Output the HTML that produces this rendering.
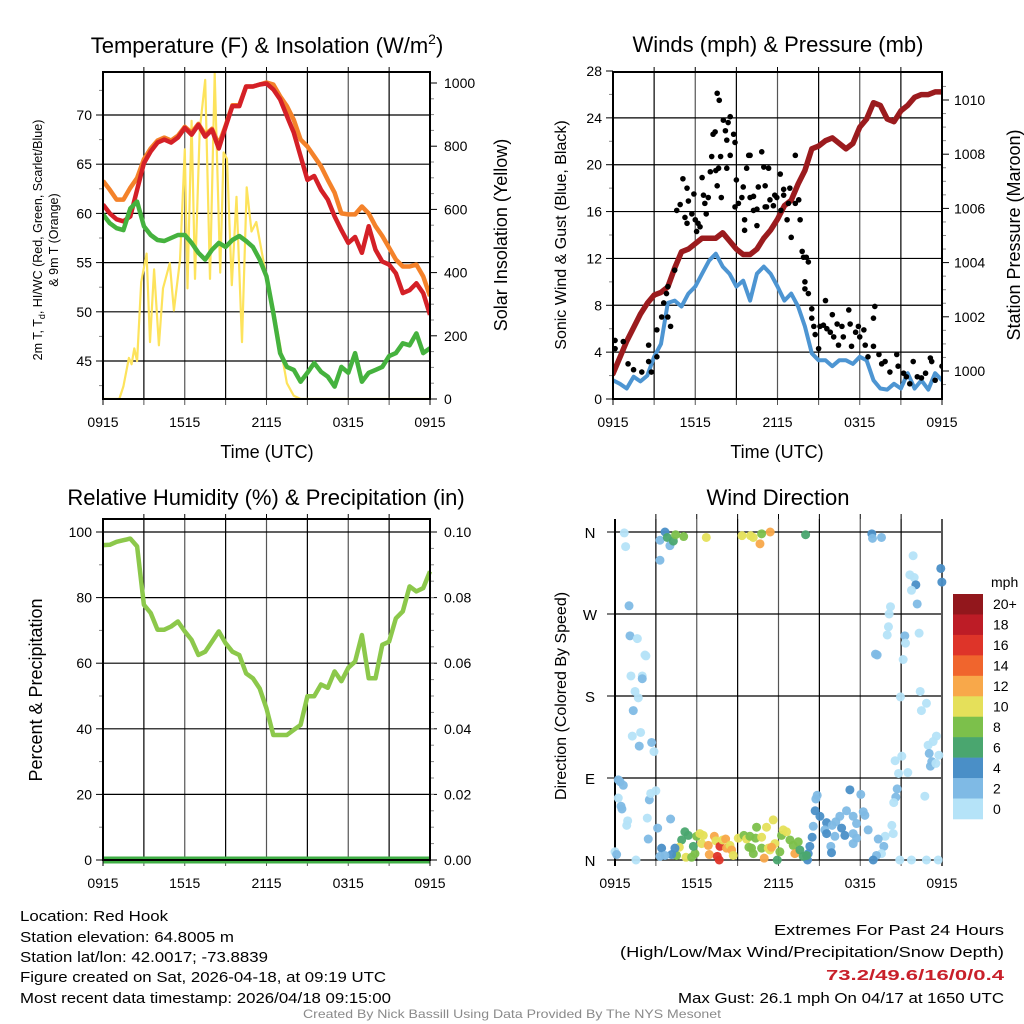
<!DOCTYPE html>
<html><head><meta charset="utf-8"><style>
html,body{margin:0;padding:0;background:#fff;}
svg{display:block;font-family:"Liberation Sans",sans-serif;}
</style></head><body>
<svg id="fig" width="1024" height="1024" viewBox="0 0 1024 1024" xmlns="http://www.w3.org/2000/svg">
<g id="layer"></g>
<g font-size="15" fill="#000">
<text x="20" y="921" textLength="148" lengthAdjust="spacingAndGlyphs">Location: Red Hook</text>
<text x="20" y="942" textLength="214" lengthAdjust="spacingAndGlyphs">Station elevation: 64.8005 m</text>
<text x="20" y="962" textLength="248" lengthAdjust="spacingAndGlyphs">Station lat/lon: 42.0017; -73.8839</text>
<text x="20" y="982" textLength="366" lengthAdjust="spacingAndGlyphs">Figure created on Sat, 2026-04-18, at 09:19 UTC</text>
<text x="20" y="1003" textLength="371" lengthAdjust="spacingAndGlyphs">Most recent data timestamp: 2026/04/18 09:15:00</text>
<text x="774" y="935" textLength="230" lengthAdjust="spacingAndGlyphs">Extremes For Past 24 Hours</text>
<text x="620" y="957" textLength="384" lengthAdjust="spacingAndGlyphs">(High/Low/Max Wind/Precipitation/Snow Depth)</text>
<text x="826" y="980" textLength="178" lengthAdjust="spacingAndGlyphs" fill="#c8202a" font-weight="bold">73.2/49.6/16/0/0.4</text>
<text x="678" y="1003" textLength="326" lengthAdjust="spacingAndGlyphs">Max Gust: 26.1 mph On 04/17 at 1650 UTC</text>
<text x="303" y="1018" font-size="12" fill="#8a8a8a" textLength="418" lengthAdjust="spacingAndGlyphs">Created By Nick Bassill Using Data Provided By The NYS Mesonet</text>
</g>
</svg>
<script>
// ---------- DATA ----------
const hours = [0,0.5,1,1.5,2,2.5,3,3.5,4,4.5,5,5.5,6,6.5,7,7.5,8,8.5,9,9.5,10,10.5,11,11.5,12,12.5,13,13.5,14,14.5,15,15.5,16,16.5,17,17.5,18,18.5,19,19.5,20,20.5,21,21.5,22,22.5,23,23.5,24];
const xTickLabels = ["0915","1515","2115","0315","0915"];
const temp2m = [60.9,60.0,59.4,59.2,59.7,62.4,65.1,66.3,67.2,67.5,67.2,67.7,68.7,68.0,69.0,67.8,68.5,66.6,68.8,70.9,70.9,72.9,72.9,73.1,73.2,72.6,71.6,69.9,68.2,65.8,63.4,63.8,62.4,61.4,59.7,58.3,57.0,57.6,56.0,58.7,56.3,55.1,54.8,53.9,51.9,52.2,52.9,51.9,49.7];
const temp9m = [63.3,62.4,61.4,61.4,62.6,63.6,65.5,66.6,67.4,67.7,67.4,67.9,68.8,68.2,69.1,68.0,68.6,67.0,68.9,71.0,71.0,72.9,72.9,73.1,73.3,73.1,71.9,70.9,69.5,67.5,66.8,65.8,64.8,63.4,62.1,60.0,59.9,59.9,60.7,60.0,58.7,57.7,56.5,55.3,54.6,54.6,54.8,53.6,51.6];
const dewpoint = [59.9,59.0,58.5,58.3,60.5,61.2,58.7,57.8,57.3,57.2,57.5,57.8,57.8,57.0,56.0,55.3,56.3,57.0,56.6,57.3,57.7,57.2,56.6,55.3,53.6,49.9,45.8,44.4,44.1,42.9,43.8,44.8,43.9,43.4,42.4,44.4,43.8,45.8,42.9,43.8,44.1,44.4,45.5,45.8,46.8,46.6,47.8,45.8,46.3];
const solarHours = [0,1.2,1.5,1.9,2.1,2.3,2.5,2.8,3.2,3.45,3.75,4.1,4.4,4.9,5.2,5.65,6.0,6.2,6.5,6.75,7.1,7.5,7.85,8.2,8.6,8.85,9.1,9.45,9.8,10.2,10.55,10.9,11.25,11.8,12.5,13.0,13.5,14.0,14.5,24];
const solar = [0,0,40,130,110,160,120,370,460,180,410,170,350,430,280,440,790,350,880,380,850,1010,380,1030,400,780,760,360,640,180,670,530,560,430,290,170,50,10,0,0];
const tempTicks = [45,50,55,60,65,70];
const solarTicks = [0,200,400,600,800,1000];

const windSpeed = [1.6,1.3,0.9,1.9,1.5,2.0,3.6,4.7,8.2,8.4,7.9,9.0,9.6,10.7,11.8,12.4,11.3,10.7,9.6,10.1,8.4,10.7,11.3,10.7,9.6,8.4,9.0,7.9,6.2,3.9,3.3,3.3,2.8,3.3,3.3,3.0,3.6,3.3,1.6,0.9,0.8,1.3,0.9,2.2,0.9,1.6,0.8,2.2,1.6];
const pressure = [999.9,1000.5,1001.1,1001.6,1002.1,1002.5,1002.8,1002.9,1003.1,1003.8,1004.4,1004.5,1004.7,1004.9,1004.9,1004.9,1005.1,1004.8,1004.5,1004.3,1004.3,1004.5,1004.9,1005.2,1005.6,1006.1,1006.3,1006.9,1007.4,1008.2,1008.3,1008.5,1008.6,1008.4,1008.2,1008.4,1009.0,1009.3,1009.9,1009.8,1009.3,1009.2,1009.6,1009.8,1010.1,1010.2,1010.2,1010.3,1010.3];
const gustHours = [0.15,0.75,0.15,1.1,1.5,2.1,2.6,2.6,2.8,3.2,3.2,3.55,4.0,3.7,3.9,4.2,4.0,4.5,4.65,4.9,5.1,5.4,5.25,5.5,5.75,5.9,5.4,6.0,6.1,6.2,6.35,6.5,6.6,6.7,6.8,6.95,7.1,7.2,7.3,7.45,7.5,7.7,7.9,7.6,7.6,7.75,8.05,8.2,8.3,8.4,8.55,8.8,8.9,7.85,8.55,8.3,9.0,8.9,9.15,9.4,9.5,9.6,9.6,9.75,9.9,10.0,10.0,10.25,10.25,10.5,10.5,10.6,10.85,11.0,11.1,11.35,11.1,11.2,11.45,11.7,11.8,11.95,12.2,12.25,12.45,12.45,12.7,12.9,13.0,12.8,13.3,13.3,13.55,13.65,13.8,13.9,14.1,14.25,14.0,14.0,14.25,14.5,14.5,14.65,14.75,15.0,15.1,15.35,15.5,15.6,15.85,16.0,16.1,16.35,16.45,16.7,16.8,17.2,17.3,17.4,17.7,17.9,18.0,18.3,18.4,18.6,19.0,19.1,19.0,19.4,19.6,19.85,20.2,20.7,20.8,21.2,21.4,21.65,21.9,22.2,22.5,22.8,23.15,23.25,23.5,24.0];
const gusts = [5.0,4.9,4.3,3.0,2.5,2.3,3.2,4.6,2.3,3.6,5.9,7.0,7.0,8.2,9.0,6.2,9.6,11.0,16.1,16.6,18.8,18.0,15.5,16.9,15.8,17.5,15.0,15.3,14.3,15.0,14.7,18.9,17.4,16.7,15.8,17.2,19.4,20.7,22.6,22.8,19.5,19.7,17.2,18.2,26.1,25.5,23.8,22.9,22.1,23.6,24.1,22.6,21.9,20.7,20.8,19.7,18.7,16.4,16.7,17.2,18.1,15.3,14.4,19.7,20.8,20.8,17.2,17.3,16.1,16.2,14.8,18.1,21.1,19.8,16.4,19.7,18.2,16.4,17.0,16.5,17.4,17.2,19.2,16.1,17.9,17.4,15.3,18.0,13.8,16.7,20.8,16.7,17.0,15.3,12.6,12.1,12.1,11.7,10.0,9.4,9.0,7.7,6.9,6.2,5.5,4.3,6.2,6.3,8.4,6.0,5.7,7.2,5.3,6.4,4.6,6.2,5.3,7.6,6.4,4.5,5.7,6.2,5.3,5.9,4.6,3.6,6.9,7.9,4.5,3.8,3.0,3.2,2.3,3.8,2.8,2.2,1.9,1.3,3.2,1.9,1.8,2.2,3.5,3.2,1.6,2.8];
const windTicks = [0,4,8,12,16,20,24,28];
const pressTicks = [1000,1002,1004,1006,1008,1010];

const rh = [96,96.1,97,97.5,98,95.6,77.8,75.3,70.2,70.2,71.2,72.7,69.7,67.1,62.5,63.5,66.6,69.7,66.1,63.5,62.5,56.9,55.4,52.3,46.2,38.1,38.1,38.1,39.7,41.2,49.9,49.9,53.5,52.5,57.5,54.5,58.6,60.5,68.6,55.4,55.4,65.6,66.6,73.7,75.8,83.4,81.9,82.9,88.0];
const precip = [0,0,0,0,0,0,0,0,0,0,0,0,0,0,0,0,0,0,0,0,0,0,0,0,0,0,0,0,0,0,0,0,0,0,0,0,0,0,0,0,0,0,0,0,0,0,0,0,0];
const rhTicks = [0,20,40,60,80,100];
const precipTickLabels = ["0.00","0.02","0.04","0.06","0.08","0.10"];

const dirHours = [0.68,0.78,1.03,1.10,1.64,2.20,2.27,1.17,2.0,2.0,1.47,1.71,1.34,1.27,1.88,1.78,2.69,2.86,0.24,0.37,0.61,0.24,0.44,0.51,0.93,0.86,2.52,2.62,3.0,2.37,3.13,2.44,4.08,0,0.12,1.54,
3.3,3.3,3.67,3.84,4.03,4.28,4.45,5.04,6.7,9.32,9.95,10.15,10.64,10.76,11.39,13.99,18.85,18.9,19.56,
21.88,21.64,21.96,22.08,21.76,22.18,23.91,23.99,20.22,20.12,20.07,19.98,21.27,21.32,22.32,19.12,19.24,21.15,20.95,22.4,22.86,22.49,23.59,23.35,22.98,23.06,23.25,23.15,23.55,23.77,21.05,20.56,20.81,21.49,20.71,20.61,20.46,22.74,20.32,20.42,19.83,19.32,19.73,19.56,19.19,18.95,20.9,21.76,22.86,23.72,
14.84,14.74,17.24,18.04,14.69,15.04,15.53,14.55,15.4,15.94,16.21,16.5,16.99,17.48,18.22,18.34,17.73,18.58,15.53,16.14,16.63,16.87,17.48,17.73,17.48,15.84,15.89,14.47,14.3,14.18,14.13,13.81,14.06,
5.13,5.38,4.89,4.72,4.52,5.21,5.62,5.87,5.75,5.99,6.23,6.48,6.36,6.85,6.92,7.29,7.41,7.7,7.51,7.65,7.9,8.12,8.19,8.44,8.56,8.68,9.05,9.46,9.66,9.83,10.02,10.15,10.32,10.39,10.76,10.95,11.12,11.25,11.37,11.61,11.74,11.91,12.1,12.22,12.35,12.59,12.84,13.08,13.2,13.45,13.57,4.4,4.16,3.42,3.3,3.67,10.76,11.49,9.9];
const dirDeg = [359,344,279,246,243,225,224,202,202,199,185,178,164,136,140,125,129,119,88,86,82,68,59,56,43,38,66,73,76,46,35,23,45,9,6,0,
351,329,360,354,345,350,357,355,354,356,356,354,347,358,360,357,358,353,354,
334,313,310,302,296,281,320,305,278,270,256,247,246,238,249,226,225,220,179,185,172,164,136,130,126,117,108,103,106,115,114,109,95,96,78,69,63,70,38,29,26,23,15,7,5,0,0,0,0,0,
71,67,77,72,54,48,41,37,33,38,42,48,54,48,53,49,40,33,29,26,35,27,29,24,18,15,8,25,15,7,0,4,5,
31,27,22,14,5,3,3,7,15,26,29,27,18,16,6,26,21,15,4,0,22,23,13,16,11,5,24,27,23,14,13,7,24,36,13,2,36,13,11,44,18,0,9,27,33,31,22,16,7,20,11,13,6,13,4,5,25,14,26];
const dirSpeed = [1,1,3,3,1,1,1,1,1,3,1,1,3,1,1,3,3,1,3,3,3,1,3,3,1,1,3,1,1,1,3,3,3,1,3,1,
3,3,5,7,3,7,9,9,11,11,11,11,13,9,13,7,5,3,3,
1,1,1,5,1,3,5,5,1,1,1,1,3,1,1,3,3,1,1,1,1,1,1,1,1,3,3,3,1,1,1,1,1,1,3,3,1,1,1,1,1,3,3,1,3,5,1,1,1,1,
3,3,5,3,5,5,5,3,3,3,3,3,3,3,3,3,3,3,5,3,5,5,3,3,3,3,5,5,5,5,5,7,7,
7,7,7,11,9,11,9,9,7,9,11,11,11,13,13,13,11,17,17,17,11,13,13,11,13,11,11,9,11,9,9,9,9,9,9,13,11,11,11,11,11,7,9,9,11,11,9,9,13,9,7,5,5,5,3,3,11,13,9];
const dirTickLabels = ["N","E","S","W","N"];
const speedBins = ["0","2","4","6","8","10","12","14","16","18","20+"];
const speedColors = ["#b5e3f8","#7fbae5","#4a8fc7","#4aa66f","#7cc04b","#e5e05a","#f8a84a","#f0652d","#de3429","#bd1c26","#92171c"];

// ---------- HELPERS ----------
const NS="http://www.w3.org/2000/svg";
const layer=document.getElementById('layer');
function el(tag,attrs,parent){const e=document.createElementNS(NS,tag);for(const k in attrs)e.setAttribute(k,attrs[k]);(parent||layer).appendChild(e);return e;}
function lin(d0,d1,r0,r1){return v=>r0+(v-d0)*(r1-r0)/(d1-d0);}
function txt(x,y,s,size,anchor,parent,rot){const t=el('text',{x:x,y:y,'font-size':size,'text-anchor':anchor||'middle',fill:'#000'},parent);if(rot)t.setAttribute('transform','rotate(-90 '+x+' '+y+')');t.textContent=s;return t;}
function pathFrom(xs,ys,fx,fy){let d='';for(let i=0;i<xs.length;i++){d+=(i?'L':'M')+fx(xs[i]).toFixed(1)+','+fy(ys[i]).toFixed(1);}return d;}

function panelFrame(g,L,T,R,B,vCount,hYs){
  // grid verticals every 3 hours
  for(let i=1;i<vCount;i++){const x=L+(R-L)*i/vCount;
    const ln=el('line',{x1:x,y1:T,x2:x,y2:B,stroke:(i%2?'#000':'#555'),'stroke-width':1.2},g);
    
    
    el('line',{x1:x,y1:T-5,x2:x,y2:T,stroke:'#000','stroke-width':1},g);
    el('line',{x1:x,y1:B,x2:x,y2:B+6,stroke:'#555','stroke-width':1},g);}
  hYs.forEach(y=>{const ln=el('line',{x1:L,y1:y,x2:R,y2:y,stroke:'#000','stroke-width':1.2},g);
    
    });
}
function border(g,L,T,R,B){const r=el('rect',{x:L,y:T,width:R-L,height:B-T,fill:'none',stroke:'#000','stroke-width':2},g);
  
  }
function xAxis(g,L,R,B){const fx=lin(0,24,L,R);
  xTickLabels.forEach((s,i)=>{const t=txt(fx(i*6),B+28,s,14,'middle',g);
    
    });
  el('line',{x1:L,y1:B,x2:L,y2:B+6,stroke:'#000'},g);el('line',{x1:R,y1:B,x2:R,y2:B+6,stroke:'#000'},g);
  return fx;}

// ---------- PANEL 1: Temperature ----------
(function(){
  const L=103,T=72,R=430,B=399;
  const g=el('g',{});
  
  
  const fx=lin(0,24,L,R), fy=lin(45,70,361,115), fs=lin(0,1000,399,83);
  panelFrame(g,L,T,R,B,8,tempTicks.map(fy));
  tempTicks.forEach(v=>{el('line',{x1:L-7,y1:fy(v),x2:L,y2:fy(v),stroke:'#000'},g);
    const t=txt(L-11,fy(v)+5,String(v),14,'end',g);
    
    });
  for(let v=42.5;v<75;v+=5){if(fy(v)>T&&fy(v)<B)el('line',{x1:L-4,y1:fy(v),x2:L,y2:fy(v),stroke:'#888'},g);}
  solarTicks.forEach(v=>{el('line',{x1:R,y1:fs(v),x2:R+7,y2:fs(v),stroke:'#000'},g);
    const t=txt(R+14,fs(v)+5,String(v),14,'start',g);
    
    });
  for(let v=50;v<1050;v+=50){if(v%200)el('line',{x1:R,y1:fs(v),x2:R+4,y2:fs(v),stroke:'#888'},g);}
  const cp=el('clipPath',{id:'c1'},g);el('rect',{x:L,y:T,width:R-L,height:B-T},cp);
  const pg=el('g',{'clip-path':'url(#c1)'},g);
  const s1=el('path',{d:pathFrom(solarHours,solar,fx,fs),fill:'none',stroke:'#fde35c','stroke-width':2.2,'stroke-linejoin':'round'},pg);
  
  
  const s2=el('path',{d:pathFrom(hours,temp9m,fx,fy),fill:'none',stroke:'#f4822a','stroke-width':4.5,'stroke-linejoin':'round'},pg);
  
  
  const s3=el('path',{d:pathFrom(hours,temp2m,fx,fy),fill:'none',stroke:'#d42027','stroke-width':4.5,'stroke-linejoin':'round'},pg);
  
  
  const s4=el('path',{d:pathFrom(hours,dewpoint,fx,fy),fill:'none',stroke:'#45b23e','stroke-width':4.5,'stroke-linejoin':'round'},pg);
  
  
  border(g,L,T,R,B);
  xAxis(g,L,R,B);
  const t1=txt(267,53,'',22,'middle',g);
  
  
  t1.innerHTML='Temperature (F) &amp; Insolation (W/m<tspan dy="-9" font-size="14">2</tspan><tspan dy="9">)</tspan>';
  const t2=txt(267,458,'Time (UTC)',18,'middle',g);
  
  
  const t3=txt(42,240,'',12.5,'middle',g,true);
  
  
  t3.innerHTML='2m T, T<tspan dy="3" font-size="9">d</tspan><tspan dy="-3">, HI/WC (Red, Green, Scarlet/Blue)</tspan>';
  const t4=txt(58,240,'& 9m T (Orange)',12.5,'middle',g,true);
  
  
  const t5=txt(507,235,'Solar Insolation (Yellow)',18,'middle',g,true);
  
  
})();

// ---------- PANEL 2: Winds ----------
(function(){
  const L=613,T=72,R=942,B=399;
  const g=el('g',{});
  
  
  const fx=lin(0,24,L,R), fy=lin(0,28,399,71), fp=lin(1000,1010,371,100);
  panelFrame(g,L,T,R,B,8,windTicks.filter(v=>v>0&&v<28).map(fy));
  windTicks.forEach(v=>{el('line',{x1:L-7,y1:fy(v),x2:L,y2:fy(v),stroke:'#000'},g);
    const t=txt(L-11,fy(v)+5,String(v),14,'end',g);
    
    });
  for(let v=2;v<28;v+=4)el('line',{x1:L-4,y1:fy(v),x2:L,y2:fy(v),stroke:'#888'},g);
  pressTicks.forEach(v=>{el('line',{x1:R,y1:fp(v),x2:R+7,y2:fp(v),stroke:'#000'},g);
    const t=txt(R+12,fp(v)+5,String(v),14,'start',g);
    
    });
  for(let v=999.5;v<1010.6;v+=0.5){if(Math.abs(v-Math.round(v/2)*2)>0.01)el('line',{x1:R,y1:fp(v),x2:R+4,y2:fp(v),stroke:'#888'},g);}
  const cp=el('clipPath',{id:'c2'},g);el('rect',{x:L,y:T,width:R-L,height:B-T},cp);
  const pg=el('g',{'clip-path':'url(#c2)'},g);
  const w=el('path',{d:pathFrom(hours,windSpeed,fx,fy),fill:'none',stroke:'#4d95d2','stroke-width':4,'stroke-linejoin':'round'},pg);
  
  
  const pr=el('path',{d:pathFrom(hours,pressure,fx,fp),fill:'none',stroke:'#9b1b1e','stroke-width':5.5,'stroke-linejoin':'round','stroke-linecap':'round'},pg);
  
  
  gusts.forEach((v,i)=>{const c=el('circle',{cx:fx(gustHours[i]),cy:fy(v),r:2.8,fill:'#000'},pg);
    
    });
  border(g,L,T,R,B);
  xAxis(g,L,R,B);
  const t1=txt(778,52,'Winds (mph) & Pressure (mb)',22,'middle',g);
  
  
  const t2=txt(777,458,'Time (UTC)',18,'middle',g);
  
  
  const t3=txt(566,235,'Sonic Wind & Gust (Blue, Black)',16,'middle',g,true);
  
  
  const t4=txt(1020,235,'Station Pressure (Maroon)',18,'middle',g,true);
  
  
})();

// ---------- PANEL 3: RH ----------
(function(){
  const L=103,T=519,R=430,B=860;
  const g=el('g',{});
  
  
  const fx=lin(0,24,L,R), fy=lin(0,100,860,532), fp=lin(0,0.1,860,532);
  panelFrame(g,L,T,R,B,8,rhTicks.filter(v=>v>0).map(fy));
  rhTicks.forEach(v=>{el('line',{x1:L-7,y1:fy(v),x2:L,y2:fy(v),stroke:'#000'},g);
    const t=txt(L-11,fy(v)+5,String(v),14,'end',g);
    
    });
  for(let v=10;v<100;v+=20)el('line',{x1:L-4,y1:fy(v),x2:L,y2:fy(v),stroke:'#888'},g);
  precipTickLabels.forEach((s,i)=>{const y=fp(i*0.02);el('line',{x1:R,y1:y,x2:R+7,y2:y,stroke:'#000'},g);
    const t=txt(R+14,y+5,s,14,'start',g);
    
    });
  for(let v=0.005;v<0.1;v+=0.005){el('line',{x1:R,y1:fp(v),x2:R+4,y2:fp(v),stroke:'#888'},g);}
  const r=el('path',{d:pathFrom(hours,rh,fx,fy),fill:'none',stroke:'#8cc84b','stroke-width':4.5,'stroke-linejoin':'round'},g);
  
  
  const p=el('path',{d:pathFrom(hours,precip,fx,fp),fill:'none',stroke:'#3fae45','stroke-width':7},g);
  
  
  border(g,L,T,R,B);
  xAxis(g,L,R,B);
  const t1=txt(266,505,'Relative Humidity (%) & Precipitation (in)',22,'middle',g);
  
  
  const t2=txt(42,690,'Percent & Precipitation',18,'middle',g,true);
  
  
})();

// ---------- PANEL 4: Wind Direction ----------
(function(){
  const L=615,T=519,R=942,B=860;
  const g=el('g',{});
  
  
  const fx=lin(0,24,L,R), fy=lin(0,360,860,532);
  panelFrame(g,L,T,R,B,8,[90,180,270,360].map(fy));
  el('line',{x1:L,y1:B,x2:R,y2:B,stroke:'#000','stroke-width':1.2},g);
  dirTickLabels.forEach((s,i)=>{const y=fy(i*90);el('line',{x1:L-8,y1:y,x2:L,y2:y,stroke:'#000'},g);
    const t=txt(L-25,y+6,s,15,'middle',g);
    
    });
  // rectangle frame with only left/right verticals (top/bottom via grid)
  const lb=el('line',{x1:L,y1:T,x2:L,y2:B+6,stroke:'#000','stroke-width':2},g);
  
  
  const rb=el('line',{x1:R,y1:T,x2:R,y2:B+6,stroke:'#555','stroke-width':2},g);
  
  
  dirDeg.forEach((d,i)=>{const s=dirSpeed[i];const bi=Math.min(10,Math.floor(s/2));
    const c=el('circle',{cx:fx(dirHours[i]),cy:fy(d),r:4.5,fill:speedColors[bi],'fill-opacity':0.95},g);
    
    });
  const fxa=lin(0,24,L,R);
  xTickLabels.forEach((s,i)=>{const t=txt(fxa(i*6),B+28,s,14,'middle',g);
    
    });
  const t1=txt(778,505,'Wind Direction',22,'middle',g);
  
  
  const t2=txt(566,696,'Direction (Colored By Speed)',16,'middle',g,true);
  
  
  // colorbar
  const cb=el('g',{},g);
  
  
  const top=594,h=(819-594)/speedBins.length;
  speedBins.forEach((s,i)=>{const k=speedBins.length-1-i;const y=top+i*h;
    const r=el('rect',{x:953,y:y,width:30,height:h+0.3,fill:speedColors[k]},cb);
    
    
    const t=txt(993,y+h/2+5,speedBins[k],14,'start',cb);
    
    });
  const u=txt(991,587,'mph',14,'start',cb);
  
  
})();
</script>
</body></html>
